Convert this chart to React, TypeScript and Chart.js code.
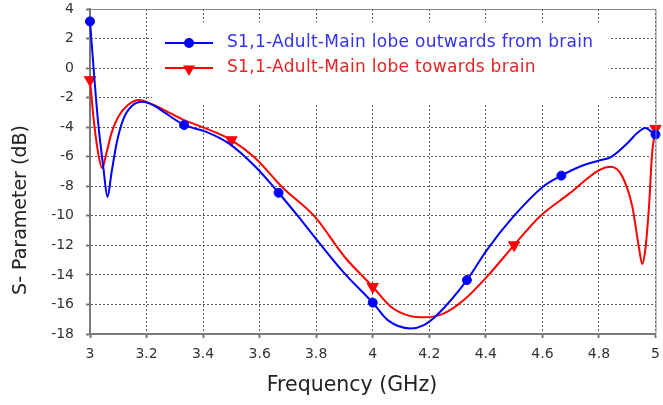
import React, { useEffect, useRef } from 'react';
import { Chart, registerables } from 'chart.js';

Chart.register(...registerables);

// Series: S1,1 outwards from brain (blue)
const blueFreq = [3.000, 3.015, 3.029, 3.047, 3.062, 3.076, 3.094, 3.117, 3.146, 3.187, 3.228, 3.263, 3.333, 3.409, 3.491, 3.585, 3.667, 3.737, 3.784, 3.900, 4.000, 4.053, 4.134, 4.181, 4.228, 4.333, 4.404, 4.497, 4.602, 4.667, 4.731, 4.801, 4.842, 4.905, 4.935, 4.965, 4.985, 5.000];
const blueS = [3.16, -0.58, -3.73, -6.7, -8.73, -7.1, -5.1, -3.5, -2.6, -2.28, -2.55, -3.0, -3.85, -4.3, -5.1, -6.68, -8.44, -10.06, -11.19, -13.9, -15.88, -17.06, -17.62, -17.4, -16.7, -14.35, -12.3, -10.06, -8.03, -7.28, -6.68, -6.25, -6.02, -5.0, -4.4, -4.06, -4.3, -4.5];
const blueMarkerFreq = [3.0, 3.333, 3.667, 4.0, 4.333, 4.667, 5.0];

// Series: S1,1 towards brain (red)
const redFreq = [3.000, 3.012, 3.029, 3.043, 3.058, 3.076, 3.100, 3.134, 3.175, 3.216, 3.263, 3.327, 3.409, 3.500, 3.585, 3.678, 3.795, 3.900, 4.000, 4.064, 4.134, 4.181, 4.252, 4.322, 4.404, 4.500, 4.590, 4.696, 4.801, 4.842, 4.883, 4.918, 4.941, 4.953, 4.965, 4.977, 4.988, 5.000];
const redS = [-0.8, -3.3, -5.76, -6.77, -5.77, -4.4, -3.3, -2.5, -2.16, -2.43, -2.84, -3.47, -4.08, -4.87, -6.1, -8.03, -10.06, -12.77, -14.8, -16.15, -16.79, -16.87, -16.6, -15.7, -14.12, -11.98, -10.06, -8.48, -6.9, -6.68, -7.35, -9.38, -12.1, -13.26, -12.1, -9.38, -5.77, -4.1];
const redMarkerFreq = [3.0, 3.5, 4.0, 4.5, 5.0];

const seriesLabels = ['S1,1-Adult-Main lobe outwards from brain', 'S1,1-Adult-Main lobe towards brain'];
const xTitle = 'Frequency (GHz)';
const yTitle = 'S- Parameter (dB)';
const xMin = 3, xMax = 5, xStep = 0.2;
const yMin = -18, yMax = 4, yStep = 2;

const BLUE = '#0000ff';
const RED = '#ff0000';
const FONT = "'DejaVu Sans', Verdana, sans-serif";
const GRID = 'rgba(50,50,50,0.8)';

function isMarker(list: number[], x: number) {
  return list.some((m) => Math.abs(m - x) < 0.002);
}

function drawDownTriangle(ctx: CanvasRenderingContext2D, x: number, y: number, r: number) {
  ctx.beginPath();
  ctx.moveTo(x, y + r);
  ctx.lineTo(x - r * 0.866, y - r * 0.5);
  ctx.lineTo(x + r * 0.866, y - r * 0.5);
  ctx.closePath();
  ctx.fill();
}

const legendPlugin = {
  id: 'customLegend',
  beforeDatasetsDraw(chart: any) {
    const ctx = chart.ctx as CanvasRenderingContext2D;
    ctx.save();
    ctx.fillStyle = '#ffffff';
    ctx.fillRect(152, 22, 458, 82);
    ctx.restore();
  },
  afterDatasetsDraw(chart: any) {
    const ctx = chart.ctx as CanvasRenderingContext2D;
    const area = chart.chartArea;
    ctx.save();
    // frame top/right
    ctx.strokeStyle = '#8a8a8a';
    ctx.lineWidth = 1;
    ctx.beginPath();
    ctx.moveTo(area.left, area.top + 0.5);
    ctx.lineTo(area.right + 0.5, area.top + 0.5);
    ctx.lineTo(area.right + 0.5, area.bottom);
    ctx.stroke();

    const rows = [
      { y: 43, color: BLUE, text: '#3333ee', label: seriesLabels[0], marker: 'circle' },
      { y: 68, color: RED, text: '#ee2222', label: seriesLabels[1], marker: 'tri' },
    ];
    rows.forEach((r) => {
      ctx.strokeStyle = r.color;
      ctx.lineWidth = 2;
      ctx.beginPath();
      ctx.moveTo(165, r.y);
      ctx.lineTo(213, r.y);
      ctx.stroke();
      ctx.fillStyle = r.color;
      if (r.marker === 'circle') {
        ctx.beginPath();
        ctx.arc(189, r.y, 5, 0, Math.PI * 2);
        ctx.fill();
      } else {
        drawDownTriangle(ctx, 189, r.y + 1, 7);
      }
      ctx.fillStyle = r.text;
      ctx.font = `17px ${FONT}`;
      (ctx as any).letterSpacing = '0.3px';
      ctx.textBaseline = 'middle';
      ctx.textAlign = 'left';
      ctx.fillText(r.label, 227, r.y);
      (ctx as any).letterSpacing = '0px';
    });

    // axis titles
    ctx.fillStyle = '#222';
    ctx.font = `20.5px ${FONT}`;
    ctx.textAlign = 'center';
    ctx.textBaseline = 'middle';
    ctx.fillText(xTitle, 352, 386);
    ctx.save();
    ctx.translate(21, 210);
    ctx.rotate(-Math.PI / 2);
    ctx.font = `19px ${FONT}`;
    ctx.fillText(yTitle, 0, 0);
    ctx.restore();
    ctx.restore();
  },
};

export default function App() {
  const ref = useRef<HTMLCanvasElement | null>(null);
  useEffect(() => {
    if (!ref.current) return;
    const chart = new Chart(ref.current, {
      type: 'line',
      data: {
        datasets: [
          {
            label: seriesLabels[0],
            data: blueFreq.map((x, i) => ({ x, y: blueS[i] })),
            borderColor: BLUE,
            backgroundColor: BLUE,
            borderWidth: 2,
            pointStyle: 'circle',
            pointRadius: (c: any) => (isMarker(blueMarkerFreq, c.raw?.x) ? 4.5 : 0),
            pointBorderWidth: 1,
            pointBackgroundColor: BLUE,
            pointBorderColor: BLUE,
            cubicInterpolationMode: 'monotone',
            clip: false as any,
          },
          {
            label: seriesLabels[1],
            data: redFreq.map((x, i) => ({ x, y: redS[i] })),
            borderColor: RED,
            backgroundColor: RED,
            borderWidth: 2,
            pointStyle: 'triangle',
            pointRotation: 180,
            pointRadius: (c: any) => (isMarker(redMarkerFreq, c.raw?.x) ? 6.5 : 0),
            pointBorderWidth: 1,
            pointBackgroundColor: RED,
            pointBorderColor: RED,
            cubicInterpolationMode: 'monotone',
            clip: false as any,
          },
        ],
      },
      options: {
        animation: false,
        responsive: false,
        maintainAspectRatio: false,
        layout: { padding: { top: 9, right: 3, left: 0, bottom: 0 } },
        plugins: { legend: { display: false }, tooltip: { enabled: false } },
        events: [],
        scales: {
          x: {
            type: 'linear',
            min: xMin,
            max: xMax,
            afterFit: (s: any) => {
              s.height = 71;
              s.paddingLeft = 0;
              s.paddingRight = 0;
            },
            ticks: {
              stepSize: xStep,
              padding: 8,
              color: '#333',
              font: { family: FONT, size: 14 },
              maxRotation: 0,
              callback: (v: any) => String(Math.round(Number(v) * 10) / 10),
            },
            grid: {
              color: GRID,
              lineWidth: 1,
              tickLength: 4,
              tickColor: '#777',
              tickWidth: 2,
            },
            border: { display: true, color: '#7a7a7a', width: 2, dash: [2, 2] },
          },
          y: {
            type: 'linear',
            min: yMin,
            max: yMax,
            afterFit: (s: any) => {
              s.width = 90;
              s.paddingTop = 0;
              s.paddingBottom = 0;
            },
            ticks: {
              stepSize: yStep,
              padding: 12,
              color: '#333',
              font: { family: FONT, size: 14 },
            },
            grid: {
              color: GRID,
              lineWidth: 1,
              tickLength: 4,
              tickColor: '#777',
              tickWidth: 2,
            },
            border: { display: true, color: '#7a7a7a', width: 2, dash: [2, 2] },
          },
        },
      } as any,
      plugins: [legendPlugin],
    });
    return () => chart.destroy();
  }, []);
  return (
    <div style={{ position: 'absolute', left: 0, top: 0, width: 663, height: 405, background: '#fff' }}>
      <canvas ref={ref} width={663} height={405} style={{ display: 'block' }} />
    </div>
  );
}
